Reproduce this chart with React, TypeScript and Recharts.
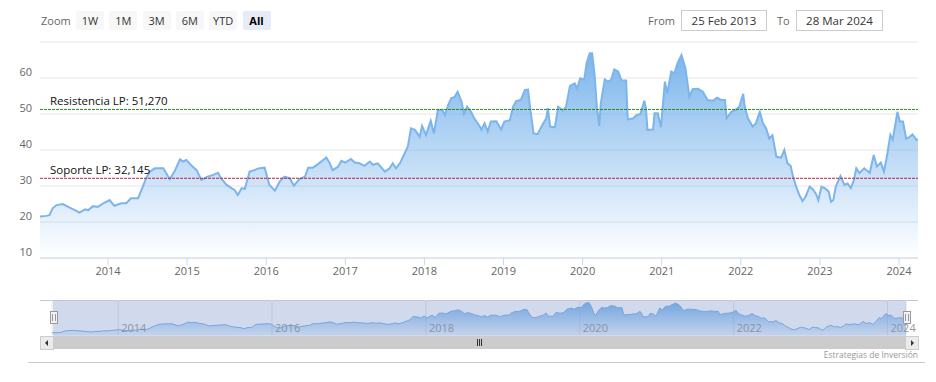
import React from 'react';
import { AreaChart, Area, XAxis, YAxis, CartesianGrid, ReferenceLine } from 'recharts';

const times = [
  2013.14, 2013.22, 2013.26, 2013.30, 2013.35, 2013.43, 2013.49, 2013.58, 2013.64, 2013.71, 2013.75, 2013.81, 2013.87, 2013.94,
  2014.02, 2014.08, 2014.17, 2014.23, 2014.29, 2014.38, 2014.44, 2014.48, 2014.53, 2014.59, 2014.70, 2014.78, 2014.84, 2014.91, 2014.95, 2014.99,
  2015.05, 2015.12, 2015.18, 2015.26, 2015.33, 2015.39, 2015.43, 2015.50, 2015.56, 2015.60, 2015.64, 2015.69, 2015.73, 2015.79, 2015.85, 2015.90,
  2015.98, 2016.04, 2016.11, 2016.17, 2016.23, 2016.30, 2016.35, 2016.42, 2016.49, 2016.53, 2016.59, 2016.65, 2016.72, 2016.76, 2016.80, 2016.84, 2016.91, 2016.95,
  2017.00, 2017.07, 2017.12, 2017.18, 2017.24, 2017.31, 2017.35, 2017.41, 2017.50, 2017.56, 2017.60, 2017.64, 2017.69, 2017.75, 2017.79, 2017.83, 2017.88, 2017.94, 2017.97,
  2018.02, 2018.08, 2018.12, 2018.17, 2018.23, 2018.26, 2018.30, 2018.34, 2018.38, 2018.42, 2018.47, 2018.50, 2018.54, 2018.59, 2018.63, 2018.70,
  2018.72, 2018.76, 2018.80, 2018.84, 2018.91, 2018.97,
  2019.01, 2019.08, 2019.12, 2019.16, 2019.22, 2019.27, 2019.31, 2019.34, 2019.38, 2019.43, 2019.48, 2019.54, 2019.56, 2019.59, 2019.65, 2019.69, 2019.75, 2019.79, 2019.84, 2019.90, 2019.93, 2019.97,
  2020.02, 2020.05, 2020.09, 2020.12, 2020.15, 2020.18, 2020.21, 2020.23, 2020.28, 2020.32, 2020.36, 2020.40, 2020.45, 2020.49, 2020.55, 2020.57, 2020.64, 2020.68, 2020.73, 2020.78, 2020.80, 2020.82, 2020.89, 2020.91, 2020.95, 2020.99,
  2021.04, 2021.07, 2021.12, 2021.16, 2021.20, 2021.25, 2021.30, 2021.35, 2021.39, 2021.46,
  2021.52, 2021.58, 2021.65, 2021.70, 2021.75, 2021.80, 2021.82, 2021.88, 2021.93, 2021.98,
  2022.03, 2022.05, 2022.09, 2022.15, 2022.19, 2022.24, 2022.28, 2022.32, 2022.36, 2022.40, 2022.45, 2022.51, 2022.55, 2022.59, 2022.63, 2022.66, 2022.70, 2022.74, 2022.78, 2022.82, 2022.87, 2022.91, 2022.95, 2022.98,
  2023.02, 2023.06, 2023.11, 2023.14, 2023.17, 2023.20, 2023.26, 2023.31, 2023.35, 2023.39, 2023.43, 2023.46, 2023.50, 2023.56, 2023.63, 2023.68, 2023.72, 2023.77, 2023.81, 2023.85, 2023.89, 2023.92, 2023.98,
  2024.01, 2024.05, 2024.09, 2024.13, 2024.17, 2024.22, 2024.24,
];

const prices = [
  21.5, 21.7, 21.9, 23.8, 24.7, 25.0, 24.3, 23.3, 22.6, 23.5, 23.3, 24.4, 24.2, 25.2,
  26.1, 24.5, 25.2, 25.2, 26.6, 26.6, 29.8, 32.1, 34.0, 34.9, 34.9, 31.9, 34.0, 37.4, 36.8, 37.2,
  35.8, 34.4, 31.7, 32.6, 33.1, 33.7, 32.1, 30.3, 29.4, 28.9, 27.5, 29.4, 29.2, 34.0, 34.4, 34.9,
  35.1, 30.3, 28.7, 31.2, 32.6, 32.1, 30.1, 31.9, 32.6, 35.1, 35.1, 36.0, 37.2, 37.9, 36.5, 34.4, 35.4, 37.0,
  36.5, 37.5, 36.5, 36.3, 35.6, 36.8, 35.9, 36.3, 34.0, 34.9, 36.3, 34.9, 36.3, 39.1, 40.9, 46.0, 45.6, 43.7, 46.7,
  44.2, 48.1, 44.6, 51.1, 51.1, 49.7, 52.5, 54.4, 54.7, 56.2, 53.4, 50.0, 52.0, 50.6, 48.8, 46.5,
  45.6, 47.4, 45.1, 47.9, 48.0, 45.7,
  47.9, 48.3, 52.0, 53.6, 54.0, 56.7, 56.8, 51.1, 44.6, 44.4, 46.5, 48.8, 51.6, 46.5, 46.3, 52.0, 51.0, 52.0, 57.8, 58.5, 57.1, 59.9,
  59.5, 64.1, 66.9, 66.9, 61.3, 52.0, 46.7, 53.0, 59.6, 59.0, 59.5, 62.4, 61.8, 59.4, 59.3, 48.5, 48.8, 49.7, 50.0, 53.7, 51.7, 45.6, 45.7, 50.2, 50.2, 46.3,
  59.0, 55.7, 61.8, 61.3, 64.1, 66.4, 62.7, 54.8, 56.9, 57.0,
  56.2, 53.9, 53.7, 54.5, 53.9, 53.9, 48.8, 50.6, 51.1, 52.0,
  55.6, 52.0, 48.8, 46.5, 47.4, 50.6, 47.4, 46.0, 43.2, 44.1, 38.1, 37.9, 40.0, 36.3, 35.6, 32.6, 29.8, 27.5, 25.8, 27.1, 29.8, 29.1, 27.8, 26.1,
  29.8, 29.4, 28.5, 25.6, 26.1, 29.8, 32.8, 30.3, 30.7, 29.4, 31.7, 34.9, 33.6, 34.9, 33.6, 38.6, 35.4, 36.5, 34.0, 38.6, 44.2, 42.9, 50.6,
  47.9, 47.9, 43.2, 43.6, 44.3, 42.8, 42.9,
];

const yTicks = [10, 20, 30, 40, 50, 60, 70];
const xTicks = [2014, 2015, 2016, 2017, 2018, 2019, 2020, 2021, 2022, 2023, 2024];
const navTicks = [2014, 2016, 2018, 2020, 2022, 2024];
const xDomain = [2013.14, 2024.24];
const resistance = 51.27;
const support = 32.145;
const resistanceLabel = 'Resistencia LP: 51,270';
const supportLabel = 'Soporte LP: 32,145';
const zoomButtons = ['1W', '1M', '3M', '6M', 'YTD', 'All'];
const selectedButton = 'All';
const fromDate = '25 Feb 2013';
const toDate = '28 Mar 2024';
const credits = 'Estrategias de Inversión';

const data = times.map((t, i) => ({ t, v: prices[i] }));

const FONT = '"Open Sans", "Liberation Sans", sans-serif';

const renderYTick = (props: any) => {
  const { x, y, payload } = props;
  if (payload.value === 70) return <g />;
  return (
    <text x={x} y={y - 2} textAnchor="end" fill="#666666" fontSize={11} fontFamily={FONT}>
      {payload.value}
    </text>
  );
};

const renderNavTick = (props: any) => {
  const { x, y, payload } = props;
  return (
    <text x={x + 3} y={y - 3} textAnchor="start" fill="#999999" fontSize={11} fontFamily={FONT}>
      {payload.value}
    </text>
  );
};

const refLabel = (text: string) => (p: any) => {
  const vb = p.viewBox || {};
  return (
    <text x={vb.x + 10} y={vb.y - 4} fill="#111111" fontSize={11.5} fontFamily={FONT}>
      {text}
    </text>
  );
};

export default function App() {
  return (
    <div style={{ position: 'absolute', left: 0, top: 0, width: 936, height: 382, background: '#ffffff', fontFamily: FONT, overflow: 'hidden' }}>
      {/* main chart */}
      <div style={{ position: 'absolute', left: 0, top: 0 }}>
        <AreaChart width={936} height={300} data={data} margin={{ top: 42, right: 18, bottom: 22, left: 0 }}>
          <defs>
            <linearGradient id="mainFill" x1="0" y1="0" x2="0" y2="1">
              <stop offset="0" stopColor="#7cb5ec" stopOpacity={1} />
              <stop offset="1" stopColor="#7cb5ec" stopOpacity={0} />
            </linearGradient>
          </defs>
          <CartesianGrid vertical={false} stroke="#e6e6e6" />
          <XAxis
            dataKey="t"
            type="number"
            domain={xDomain}
            ticks={xTicks}
            interval={0}
            allowDataOverflow
            height={20}
            tickSize={7}
            tickMargin={2}
            axisLine={{ stroke: '#ccd6eb' }}
            tickLine={{ stroke: '#ccd6eb' }}
            tick={{ fill: '#666666', fontSize: 11, fontFamily: FONT }}
            tickFormatter={(v: number) => String(v)}
          />
          <YAxis
            type="number"
            domain={[10, 70]}
            ticks={yTicks}
            interval={0}
            allowDataOverflow
            width={40}
            tickSize={0}
            tickMargin={8}
            axisLine={false}
            tickLine={false}
            tick={renderYTick}
          />
          <Area
            type="linear"
            dataKey="v"
            stroke="#7cb5ec"
            strokeWidth={2}
            fill="url(#mainFill)"
            fillOpacity={1}
            dot={false}
            activeDot={false}
            isAnimationActive={false}
          />
          <ReferenceLine y={resistance} stroke="#228b22" strokeDasharray="3 1" label={refLabel(resistanceLabel)} />
          <ReferenceLine y={support} stroke="#b3264a" strokeDasharray="3 1" label={refLabel(supportLabel)} />
        </AreaChart>
      </div>

      {/* navigator */}
      <div style={{ position: 'absolute', left: 40, top: 300, width: 878, height: 1, background: '#c4c6ce' }} />
      <div style={{ position: 'absolute', left: 0, top: 0 }}>
        <AreaChart width={936} height={382} data={data} margin={{ top: 300, right: 30, bottom: 42, left: 52 }}>
          <defs>
            <linearGradient id="navFill" x1="0" y1="0" x2="0" y2="1">
              <stop offset="0" stopColor="#7cb5ec" stopOpacity={1} />
              <stop offset="1" stopColor="#7cb5ec" stopOpacity={0.15} />
            </linearGradient>
          </defs>
          <CartesianGrid horizontal={false} stroke="#e6e6e6" />
          <XAxis
            dataKey="t"
            type="number"
            domain={xDomain}
            ticks={navTicks}
            interval={0}
            allowDataOverflow
            height={5}
            tickSize={0}
            tickMargin={0}
            axisLine={false}
            tickLine={false}
            tick={renderNavTick}
          />
          <YAxis type="number" domain={[18, 71]} hide allowDataOverflow />
          <Area
            type="linear"
            dataKey="v"
            stroke="#7cb5ec"
            strokeWidth={1}
            fill="url(#navFill)"
            fillOpacity={1}
            dot={false}
            activeDot={false}
            isAnimationActive={false}
          />
        </AreaChart>
      </div>
      {/* navigator mask */}
      <div style={{ position: 'absolute', left: 53, top: 301, width: 853, height: 35, background: 'rgba(102,133,194,0.3)' }} />
      {/* handles */}
      {[50, 903].map((hx) => (
        <div key={hx} style={{ position: 'absolute', left: hx, top: 311, width: 6, height: 11, background: '#f2f2f2', border: '1px solid #999' }}>
          <div style={{ position: 'absolute', left: 1, top: 2, width: 1, height: 7, background: '#999' }} />
          <div style={{ position: 'absolute', left: 4, top: 2, width: 1, height: 7, background: '#999' }} />
        </div>
      ))}
      {/* scrollbar */}
      <div style={{ position: 'absolute', left: 40, top: 336, width: 878, height: 13, background: '#f2f2f2' }} />
      <div style={{ position: 'absolute', left: 53, top: 336, width: 853, height: 13, background: '#cccccc' }} />
      <div style={{ position: 'absolute', left: 40, top: 336, width: 12, height: 12, background: '#ebebeb', border: '1px solid #cccccc' }}>
        <div style={{ position: 'absolute', left: 4, top: 3, width: 0, height: 0, borderTop: '3px solid transparent', borderBottom: '3px solid transparent', borderRight: '3px solid #333' }} />
      </div>
      <div style={{ position: 'absolute', left: 905, top: 336, width: 12, height: 12, background: '#ebebeb', border: '1px solid #cccccc' }}>
        <div style={{ position: 'absolute', left: 5, top: 3, width: 0, height: 0, borderTop: '3px solid transparent', borderBottom: '3px solid transparent', borderLeft: '3px solid #333' }} />
      </div>
      {[477, 479, 481].map((gx) => (
        <div key={gx} style={{ position: 'absolute', left: gx, top: 339, width: 1, height: 7, background: '#333' }} />
      ))}

      {/* credits and bottom rule */}
      <div style={{ position: 'absolute', right: 18, top: 349, fontSize: 8.5, color: '#999999', whiteSpace: 'nowrap' }}>{credits}</div>
      <div style={{ position: 'absolute', left: 28, top: 362, width: 897, height: 1, background: '#cccccc' }} />

      {/* range selector */}
      <div style={{ position: 'absolute', left: 41, top: 13, fontSize: 11, color: '#666666' }}>Zoom</div>
      {zoomButtons.map((b, i) => {
        const sel = b === selectedButton;
        return (
          <div
            key={b}
            style={{
              position: 'absolute',
              left: 76 + i * 33.3,
              top: 11,
              width: 28,
              height: 19,
              background: sel ? '#e6ebf5' : '#f7f7f7',
              borderRadius: 2,
              fontSize: 11,
              lineHeight: '19px',
              textAlign: 'center',
              color: sel ? '#000000' : '#333333',
              fontWeight: sel ? 700 : 400,
            }}
          >
            {b}
          </div>
        );
      })}
      <div style={{ position: 'absolute', left: 648, top: 13, fontSize: 11, color: '#666666' }}>From</div>
      <div style={{ position: 'absolute', left: 681, top: 10, width: 84, height: 19, border: '1px solid #cccccc', fontSize: 11.5, lineHeight: '19px', textAlign: 'center', color: '#333333' }}>{fromDate}</div>
      <div style={{ position: 'absolute', left: 777, top: 13, fontSize: 11, color: '#666666' }}>To</div>
      <div style={{ position: 'absolute', left: 796, top: 10, width: 85, height: 19, border: '1px solid #cccccc', fontSize: 11.5, lineHeight: '19px', textAlign: 'center', color: '#333333' }}>{toDate}</div>
    </div>
  );
}
